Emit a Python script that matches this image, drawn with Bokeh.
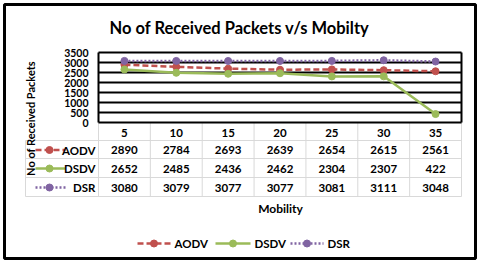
from bokeh.plotting import figure
from bokeh.models import Range1d
from bokeh.core.properties import value
from bokeh.embed import file_html
from bokeh.resources import INLINE

# ---- data ----
mobility = [5, 10, 15, 20, 25, 30, 35]
aodv = [2890, 2784, 2693, 2639, 2654, 2615, 2561]
dsdv = [2652, 2485, 2436, 2462, 2304, 2307, 422]
dsr = [3080, 3079, 3077, 3077, 3081, 3111, 3048]
series_names = ["AODV", "DSDV", "DSR"]
y_ticks = [0, 500, 1000, 1500, 2000, 2500, 3000, 3500]
title_text = "No of Received Packets v/s Mobilty"
x_title = "Mobility"
y_title = "No of Received Packets"

# ---- layout (reference pixel coords) ----
W, H = 479, 266
OX, OY = 0, 0
FL, FR, FT, FB = 98, 461, 52, 122
ncol = len(mobility)
colw = (FR - FL) / ncol
step = mobility[1] - mobility[0]
ppu = colw / step
x0_data = mobility[0] - (FL + colw / 2 - OX) / ppu
x1_data = x0_data + W / ppu
upp = (y_ticks[-1] - y_ticks[0]) / (FB - FT)
y0_data = -(OY + H - FB) * upp
y1_data = y_ticks[-1] + (FT - OY) * upp

p = figure(width=W, height=H, output_backend="svg", toolbar_location=None,
           x_range=Range1d(x0_data, x1_data), y_range=Range1d(y0_data, y1_data),
           min_border=0, x_axis_type=None, y_axis_type=None)
p.extra_x_ranges = {"px": Range1d(OX, OX + W)}
p.extra_y_ranges = {"px": Range1d(OY + H, OY)}
p.xgrid.visible = False
p.ygrid.visible = False
p.outline_line_color = None
p.background_fill_color = "white"
p.border_fill_color = "white"

FONT = value("Lato")
colors = ["#C0504D", "#9BBB59", "#8064A2"]
dashes = ["6 3", "solid", "2 2"]
values = [aodv, dsdv, dsr]

# outer border
p.quad(left=[4], right=[475], top=[4], bottom=[258], x_range_name="px", y_range_name="px",
       fill_color=None, line_color="black", line_width=3)

edges = [mobility[0] - step / 2 + step * k for k in range(ncol + 1)]

# table grid (light)
row_lines = [140, 158, 177, 196]
p.segment(x0=[25] * len(row_lines), x1=[FR] * len(row_lines), y0=row_lines, y1=row_lines,
          x_range_name="px", y_range_name="px", line_color="#d9d9d9", line_width=1)
p.segment(x0=edges, x1=edges, y0=[FB] * len(edges), y1=[196] * len(edges),
          y_range_name="px", line_color="#d9d9d9", line_width=1)
p.segment(x0=[25], x1=[25], y0=[140], y1=[196], x_range_name="px", y_range_name="px",
          line_color="#d9d9d9", line_width=1)

# plot gridlines & frame
p.segment(x0=[edges[0]] * len(y_ticks), x1=[edges[-1]] * len(y_ticks), y0=y_ticks, y1=y_ticks,
          line_color="black", line_width=2)
p.segment(x0=[edges[0], edges[-1]], x1=[edges[0], edges[-1]], y0=[y_ticks[0]] * 2,
          y1=[y_ticks[-1]] * 2, line_color="black", line_width=2)

# tick labels
p.text(x=[88] * len(y_ticks), y=y_ticks, text=[str(t) for t in y_ticks], x_range_name="px",
       text_font=FONT, text_font_style="bold", text_font_size="10.5px",
       text_align="right", text_baseline="middle", text_color="black")

# series
for name, vals, c, d in zip(series_names, values, colors, dashes):
    p.line(mobility, vals, line_color=c, line_width=2.5, line_dash=d)
    p.scatter(mobility, vals, size=7, fill_color=c, line_color=c)

# table text
p.text(x=mobility, y=[132] * ncol, text=[str(m) for m in mobility], y_range_name="px",
       text_font=FONT, text_font_style="bold", text_font_size="11.5px",
       text_align="center", text_baseline="middle", text_color="black")
row_y = [149.5, 168, 187]
for ry, name, vals, c, d in zip(row_y, series_names, values, colors, dashes):
    p.text(x=mobility, y=[ry] * ncol, text=[str(v) for v in vals], y_range_name="px",
           text_font=FONT, text_font_style="bold", text_font_size="11.5px",
           text_align="center", text_baseline="middle", text_color="black")
    p.line(x=[35, 65], y=[ry, ry], x_range_name="px", y_range_name="px",
           line_color=c, line_width=2.5, line_dash=d)
    p.scatter(x=[49], y=[ry], x_range_name="px", y_range_name="px",
              size=7, fill_color=c, line_color=c)
    p.text(x=[95], y=[ry], text=[name], x_range_name="px", y_range_name="px",
           text_font=FONT, text_font_style="bold", text_font_size="11.5px",
           text_align="right", text_baseline="middle", text_color="black")

# titles
p.text(x=[239], y=[27], text=[title_text], x_range_name="px", y_range_name="px",
       text_font=FONT, text_font_style="bold", text_font_size="16.5px",
       text_align="center", text_baseline="middle", text_color="black")
p.text(x=[280], y=[208], text=[x_title], x_range_name="px", y_range_name="px",
       text_font=FONT, text_font_style="bold", text_font_size="12px",
       text_align="center", text_baseline="middle", text_color="black")
p.text(x=[30], y=[118], text=[y_title], x_range_name="px", y_range_name="px", angle=1.5708,
       text_font=FONT, text_font_style="bold", text_font_size="11px",
       text_align="center", text_baseline="middle", text_color="black")

# bottom legend
leg_keys = [(137, 170), (215, 250), (290, 323)]
for (a, b), name, c, d in zip(leg_keys, series_names, colors, dashes):
    p.line(x=[a, b], y=[243, 243], x_range_name="px", y_range_name="px",
           line_color=c, line_width=2.5, line_dash=d)
    p.scatter(x=[(a + b) / 2], y=[243], x_range_name="px", y_range_name="px",
              size=7, fill_color=c, line_color=c)
    p.text(x=[b + 4], y=[243], text=[name], x_range_name="px", y_range_name="px",
           text_font=FONT, text_font_style="bold", text_font_size="11.5px",
           text_align="left", text_baseline="middle", text_color="black")

open("out.html", "w").write(file_html(p, INLINE))
